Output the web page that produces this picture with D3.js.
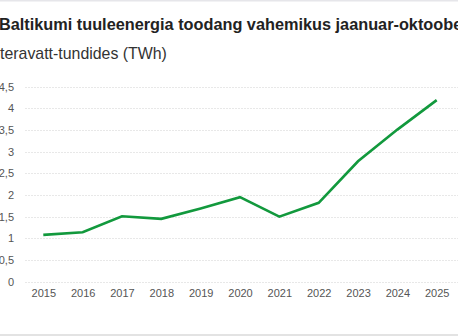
<!DOCTYPE html>
<html><head><meta charset="utf-8">
<script src="https://cdn.jsdelivr.net/npm/d3@7"></script>
<style>html,body{margin:0;padding:0;background:#fff;overflow:hidden}</style>
</head><body>
<svg id="c" width="458" height="336"></svg>
<script>
const years = ["2015","2016","2017","2018","2019","2020","2021","2022","2023","2024","2025"];
const values = [1.08, 1.14, 1.51, 1.45, 1.69, 1.95, 1.50, 1.82, 2.78, 3.51, 4.19];
const yTicks = [0, 0.5, 1, 1.5, 2, 2.5, 3, 3.5, 4, 4.5];
const title = "Baltikumi tuuleenergia toodang vahemikus jaanuar-oktoober";
const subtitle = "teravatt-tundides (TWh)";

const svg = d3.select("#c");
const W = 458, H = 336;
svg.append("line").attr("x1",0).attr("x2",W).attr("y1",0.5).attr("y2",0.5).attr("stroke","#e6e6ea").attr("stroke-width",2);
svg.append("line").attr("x1",0).attr("x2",W).attr("y1",335).attr("y2",335).attr("stroke","#e3e3e3").attr("stroke-width",2);

svg.append("text").attr("x",-1).attr("y",29.5).text(title)
  .attr("font-family","Liberation Sans, Arial, sans-serif").attr("font-weight","bold")
  .attr("font-size",16.3).attr("fill","#222");
svg.append("text").attr("x",0).attr("y",58.5).text(subtitle)
  .attr("font-family","Liberation Sans, Arial, sans-serif")
  .attr("font-size",15.9).attr("fill","#333");

const x = d3.scalePoint().domain(years).range([43.3, 436.7]);
const y = d3.scaleLinear().domain([0, 4.5]).range([281.7, 86.7]);

const grid = svg.append("g");
grid.selectAll("line").data(yTicks).join("line")
  .attr("x1",25).attr("x2",W).attr("y1",d=>Math.round(y(d))+0.5).attr("y2",d=>Math.round(y(d))+0.5)
  .attr("stroke","#e8e8e8").attr("stroke-width",1).attr("stroke-dasharray","2,1");

const fmt = d => String(d).replace(".", ",");
const yAxis = d3.axisLeft(y).tickValues(yTicks).tickFormat(fmt).tickSize(0).tickPadding(0);
const ga = svg.append("g").attr("transform","translate(14,0)").call(yAxis);
ga.select(".domain").remove();
ga.selectAll("text").attr("font-family","Liberation Sans, Arial, sans-serif").attr("font-size",11).attr("fill","#555");

const xAxis = d3.axisBottom(x).tickSize(0).tickPadding(0);
const gx = svg.append("g").attr("transform","translate(0,289)").call(xAxis);
gx.select(".domain").remove();
gx.selectAll("text").attr("font-family","Liberation Sans, Arial, sans-serif").attr("font-size",11).attr("fill","#555");

const line = d3.line().x((d,i)=>x(years[i])).y(d=>y(d));
svg.append("path").datum(values).attr("d",line).attr("fill","none")
  .attr("stroke","#12993d").attr("stroke-width",2.6).attr("stroke-linejoin","miter");
</script>
</body></html>
